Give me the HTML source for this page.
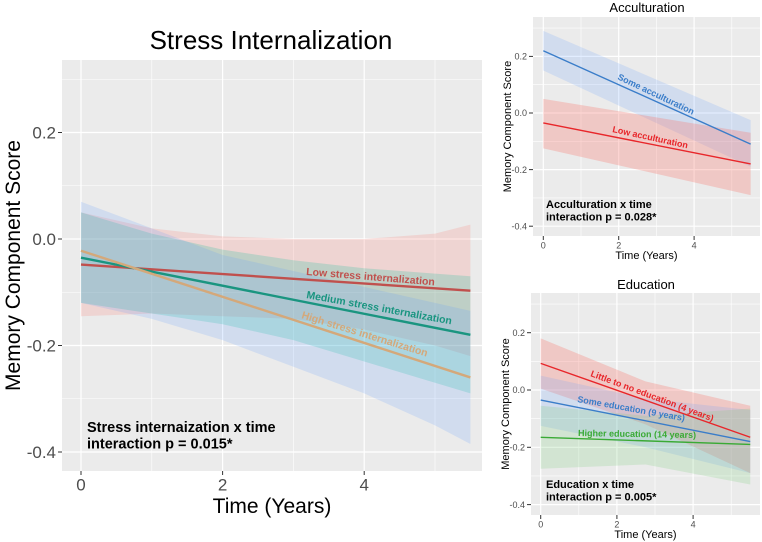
<!DOCTYPE html>
<html><head><meta charset="utf-8"><style>
body{margin:0;background:#fff;}
svg{display:block;font-family:"Liberation Sans",Arial,sans-serif;}
</style></head><body>
<svg id="c" width="762" height="542"></svg>
<script>
// ---- Panel A: Stress internalization
const stressX = [0, 5.5];
const stressNames = ["Low stress internalization","Medium stress internalization","High stress internalization"];
const stressFit = [[-0.048,-0.097],[-0.035,-0.18],[-0.022,-0.26]];
const stressBandX = [0, 1, 2, 3, 4, 5, 5.5];
const stressLow = [[-0.145,-0.14,-0.145,-0.15,-0.17,-0.2,-0.22],[-0.12,-0.14,-0.16,-0.19,-0.23,-0.27,-0.29],[-0.12,-0.15,-0.19,-0.24,-0.29,-0.35,-0.385]];
const stressHigh = [[0.05,0.02,0.005,0.0,0.0,0.01,0.027],[0.05,0.01,-0.02,-0.04,-0.055,-0.065,-0.07],[0.07,0.02,-0.03,-0.06,-0.09,-0.12,-0.135]];
const stressYTicks = [0.2, 0.0, -0.2, -0.4];
const stressXTicks = [0, 2, 4];
// ---- Panel B: Acculturation
const accNames = ["Some acculturation","Low acculturation"];
const accFit = [[0.22,-0.11],[-0.035,-0.18]];
const accBandX = [0, 5.5];
const accLow = [[0.15,-0.19],[-0.125,-0.29]];
const accHigh = [[0.29,-0.025],[0.05,-0.07]];
// ---- Panel C: Education
const eduNames = ["Little to no education (4 years)","Some education (9 years)","Higher education (14 years)"];
const eduFit = [[0.093,-0.165],[-0.035,-0.18],[-0.165,-0.19]];
const eduBandX = [0, 2.75, 5.5];
const eduLow = [[0.005,-0.12,-0.29],[-0.125,-0.2,-0.29],[-0.275,-0.26,-0.33]];
const eduHigh = [[0.18,0.03,-0.055],[0.05,-0.03,-0.07],[-0.055,-0.09,-0.065]];
const smallYTicks = [0.2, 0.0, -0.4, -0.2];
const smallXTicks = [0, 2, 4];

const NS="http://www.w3.org/2000/svg";
const svg=document.getElementById('c');
function el(tag,attrs,parent,text){const e=document.createElementNS(NS,tag);for(const k in attrs)e.setAttribute(k,attrs[k]);if(text!==undefined)e.textContent=text;(parent||svg).appendChild(e);return e;}

function panel(cfg){
  const g=el('g',{});
  
  
  const sx=v=>cfg.x0+(v)*cfg.pxX;
  const sy=v=>cfg.y0-(v)*cfg.pxY;
  const bg=el('rect',{x:cfg.L,y:cfg.T,width:cfg.R-cfg.L,height:cfg.B-cfg.T,fill:'#ebebeb'},g);
  
  
  for(let v=-0.5;v<=0.31;v+=0.1){const y=sy(v);if(y<cfg.T||y>cfg.B)continue;el('line',{x1:cfg.L,x2:cfg.R,y1:y,y2:y,stroke:'#fff','stroke-width':Math.abs(Math.round(v*10))%2?0.6:1.2},g);}
  for(let v=-1;v<=6;v++){const x=sx(v);if(x<cfg.L||x>cfg.R)continue;el('line',{x1:x,x2:x,y1:cfg.T,y2:cfg.B,stroke:'#fff','stroke-width':v%2?0.6:1.2},g);}
  cfg.low.forEach((lo,i)=>{
    const hi=cfg.high[i];
    let d='M'+cfg.bandX.map((x,j)=>sx(x)+','+sy(hi[j])).join(' L');
    d+=' L'+cfg.bandX.map((x,j)=>sx(x)+','+sy(lo[j])).reverse().join(' L')+' Z';
    const p=el('path',{d:d,fill:cfg.fills[i]},g);
    
    
  });
  cfg.fit.forEach((f,i)=>{
    const l=el('line',{x1:sx(0),y1:sy(f[0]),x2:sx(5.5),y2:sy(f[1]),stroke:cfg.colors[i],'stroke-width':cfg.lw},g);
    
    
    const lb=cfg.labels[i];
    const ang=Math.atan2(sy(f[1])-sy(f[0]),sx(5.5)-sx(0))*180/Math.PI*lb.rot;
    const t=el('text',{x:lb.x,y:lb.y,fill:cfg.colors[i],'font-size':cfg.lfs,'font-weight':'bold',transform:`rotate(${ang} ${lb.x} ${lb.y})`},g,cfg.names[i]);
    
    
  });
  cfg.yt.forEach(v=>{const y=sy(v);
    el('line',{x1:cfg.L-4,x2:cfg.L,y1:y,y2:y,stroke:'#333'},g);
    const t=el('text',{x:cfg.L-6,y:y+cfg.tfs*0.35,'text-anchor':'end','font-size':cfg.tfs,fill:'#4d4d4d'},g,v.toFixed(1));
    
    
  });
  cfg.xt.forEach(v=>{const x=sx(v);
    el('line',{x1:x,x2:x,y1:cfg.B,y2:cfg.B+4,stroke:'#333'},g);
    const t=el('text',{x:x,y:cfg.B+5+cfg.tfs*0.85,'text-anchor':'middle','font-size':cfg.tfs,fill:'#4d4d4d'},g,String(v));
    
    
  });
  const ti=el('text',{x:cfg.tx,y:cfg.ty,'text-anchor':'middle','font-size':cfg.tsz},g,cfg.title);
  
  
  const xt=el('text',{x:(cfg.L+cfg.R)/2,y:cfg.xty,'text-anchor':'middle','font-size':cfg.asz},g,'Time (Years)');
  
  
  const yc=(cfg.T+cfg.B)/2;
  const yt=el('text',{x:cfg.ytx,y:yc,'text-anchor':'middle','font-size':cfg.asz,transform:`rotate(-90 ${cfg.ytx} ${yc})`},g,'Memory Component Score');
  
  
  cfg.ann.forEach((s,i)=>{
    const a=el('text',{x:cfg.ax,y:cfg.ay+i*cfg.afs*1.15,'font-size':cfg.afs,'font-weight':'bold'},g,s);
    
    
  });
}

panel({name:'stress-panel',L:62,R:482,T:60,B:471,x0:81,pxX:70.8,y0:239,pxY:532.5,
  bandX:stressBandX,low:stressLow,high:stressHigh,fit:stressFit,names:stressNames,
  fills:['rgba(248,118,109,0.2)','rgba(0,191,150,0.2)','rgba(97,156,255,0.18)'],
  colors:['#c0504d','#1a9580','#d4a87a'],lw:2.4,lfs:10.5,
  labels:[{x:306,y:275,rot:1.2},{x:306,y:298,rot:0.92},{x:301,y:318,rot:0.95}],
  yt:stressYTicks,xt:stressXTicks,tfs:17,title:'Stress Internalization',tx:271,ty:49,tsz:26,
  xty:513,asz:21,ytx:20,ann:['Stress internaization x time','interaction p = 0.015*'],ax:87,ay:432,afs:14.5});

panel({name:'acculturation-panel',L:533,R:760,T:17,B:236,x0:543.3,pxX:37.7,y0:113,pxY:283,
  bandX:accBandX,low:accLow,high:accHigh,fit:accFit,names:accNames,
  fills:['rgba(97,156,255,0.18)','rgba(248,118,109,0.3)'],
  colors:['#3a7dc9','#e8262a'],lw:1.4,lfs:9,
  labels:[{x:617,y:79,rot:1.05},{x:612,y:132,rot:1.1}],
  yt:smallYTicks,xt:smallXTicks,tfs:9,title:'Acculturation',tx:647,ty:12,tsz:13,
  xty:259,asz:11,ytx:511,ann:['Acculturation x time','interaction p = 0.028*'],ax:546,ay:208,afs:11});

panel({name:'education-panel',L:531,R:760,T:293,B:515,x0:540.7,pxX:38.1,y0:390,pxY:286.5,
  bandX:eduBandX,low:eduLow,high:eduHigh,fit:eduFit,names:eduNames,
  fills:['rgba(248,118,109,0.3)','rgba(97,156,255,0.18)','rgba(124,205,124,0.22)'],
  colors:['#e8262a','#3a7dc9','#3aaa35'],lw:1.4,lfs:9,
  labels:[{x:590,y:376,rot:1.05},{x:577,y:402,rot:0.9},{x:578,y:436,rot:0.5}],
  yt:smallYTicks,xt:smallXTicks,tfs:9,title:'Education',tx:646,ty:289,tsz:13,
  xty:538,asz:11,ytx:509,ann:['Education x time','interaction p = 0.005*'],ax:546,ay:488,afs:11});
</script>
</body></html>
